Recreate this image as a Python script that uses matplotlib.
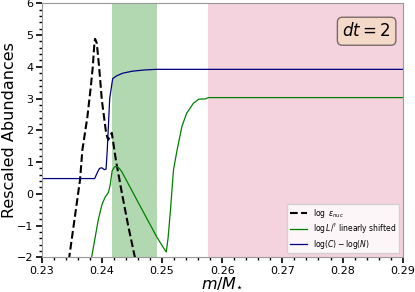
#!/usr/bin/env python3
"""
plot.py — Abundancias reescaladas vs coordenada de masa (dt = 2).

Tres curvas (log eps_nuc, log L linealmente desplazado, log C - log N) sobre
dos bandas sombreadas: la zona verde y la zona rosa exterior.
"""

from pathlib import Path

import matplotlib
matplotlib.use("Agg")
import matplotlib.pyplot as plt
from matplotlib.ticker import AutoMinorLocator

# ── Datos ───────────────────────────────────────────────────────────────────

# log eps_nuc (línea discontinua negra)
eps_m = [0.2345, 0.23637, 0.23676, 0.23759, 0.23816, 0.23849, 0.23876, 0.23887,
         0.23915, 0.23954, 0.23999, 0.24070, 0.24104, 0.24135, 0.24165, 0.24232,
         0.24332, 0.24441, 0.24560]
eps_val = [-2.1, 0.44, 1.38, 2.42, 3.37, 4.0, 4.75, 4.88,
           4.75, 4.0, 2.96, 1.92, 1.70, 1.80, 1.92, 1.07,
           0.03, -1.04, -2.1]

# log L linealmente desplazado (verde)
lum_m = [0.2382, 0.2394, 0.2400, 0.2405, 0.2411, 0.2414, 0.2417, 0.2421,
         0.2425, 0.2429, 0.2433, 0.2464, 0.2491, 0.2503, 0.2507, 0.2510,
         0.2514, 0.2519, 0.2525, 0.2533, 0.2541, 0.2552, 0.2561, 0.2572,
         0.2577, 0.2900]
lum_val = [-2.1, -0.82, -0.35, -0.12, 0.05, 0.3, 0.72, 0.85,
           0.86, 0.80, 0.70, -0.40, -1.35, -1.72, -1.83, -1.40,
           -0.51, 0.75, 1.38, 2.12, 2.54, 2.85, 2.98, 2.99,
           3.03, 3.03]

# log(C) - log(N) (azul)
cn_m = [0.2300, 0.2388, 0.2392, 0.2396, 0.2400, 0.2404, 0.2407, 0.2409,
        0.2413, 0.2418, 0.2425, 0.2435, 0.2450, 0.2470, 0.2490, 0.2520, 0.2900]
cn_val = [0.48, 0.48, 0.65, 0.80, 0.82, 0.76, 0.78, 1.4,
          3.0, 3.63, 3.72, 3.80, 3.86, 3.90, 3.92, 3.92, 3.92]

# bandas sombreadas
green_band = (0.2417, 0.2491)
pink_band = (0.2577, 0.2900)

x_lim = (0.23, 0.29)
y_lim = (-2, 6)

labels = [r"$\log\ \epsilon_{nuc}$",
          r"$\log L/^?$ linearly shifted",
          r"$\log(C) - \log(N)$"]


def abundances_plot(out_path: Path) -> Path:
    fig = plt.figure(figsize=(4.15, 2.92), dpi=100)
    ax = fig.add_axes([0.1005, 0.1188, 0.8699, 0.8699])

    ax.axvspan(*green_band, color="green", alpha=0.3, lw=0)
    ax.axvspan(*pink_band, color="palevioletred", alpha=0.3, lw=0)

    ax.plot(eps_m, eps_val, color="black", ls="--", lw=1.5, label=labels[0])
    ax.plot(lum_m, lum_val, color="green", lw=0.9, label=labels[1])
    ax.plot(cn_m, cn_val, color="navy", lw=0.9, label=labels[2])

    ax.set_xlim(*x_lim)
    ax.set_ylim(*y_lim)
    ax.set_xticks([0.23, 0.24, 0.25, 0.26, 0.27, 0.28, 0.29])
    ax.xaxis.set_minor_locator(AutoMinorLocator(5))
    ax.yaxis.set_minor_locator(AutoMinorLocator(5))
    ax.tick_params(which="major", length=4, width=1.2, labelsize=8, pad=2)
    ax.tick_params(which="minor", length=2.5, width=1.0)
    for side in ax.spines.values():
        side.set_color("0.6")

    ax.set_xlabel(r"$m/M_{\star}$", fontsize=11.5, labelpad=0)
    ax.set_ylabel("Rescaled Abundances", fontsize=11.5, labelpad=0)

    ax.text(0.90, 0.89, r"$dt = 2$", transform=ax.transAxes, fontsize=12,
            ha="center", va="center",
            bbox=dict(boxstyle="round", facecolor="wheat", alpha=0.5))
    ax.legend(loc="lower right", fontsize=5.5, labelspacing=0.25,
              borderpad=0.35, handlelength=2.2)

    fig.savefig(out_path, dpi=100)
    plt.close(fig)
    return out_path


if __name__ == "__main__":
    abundances_plot(Path("out.png"))
